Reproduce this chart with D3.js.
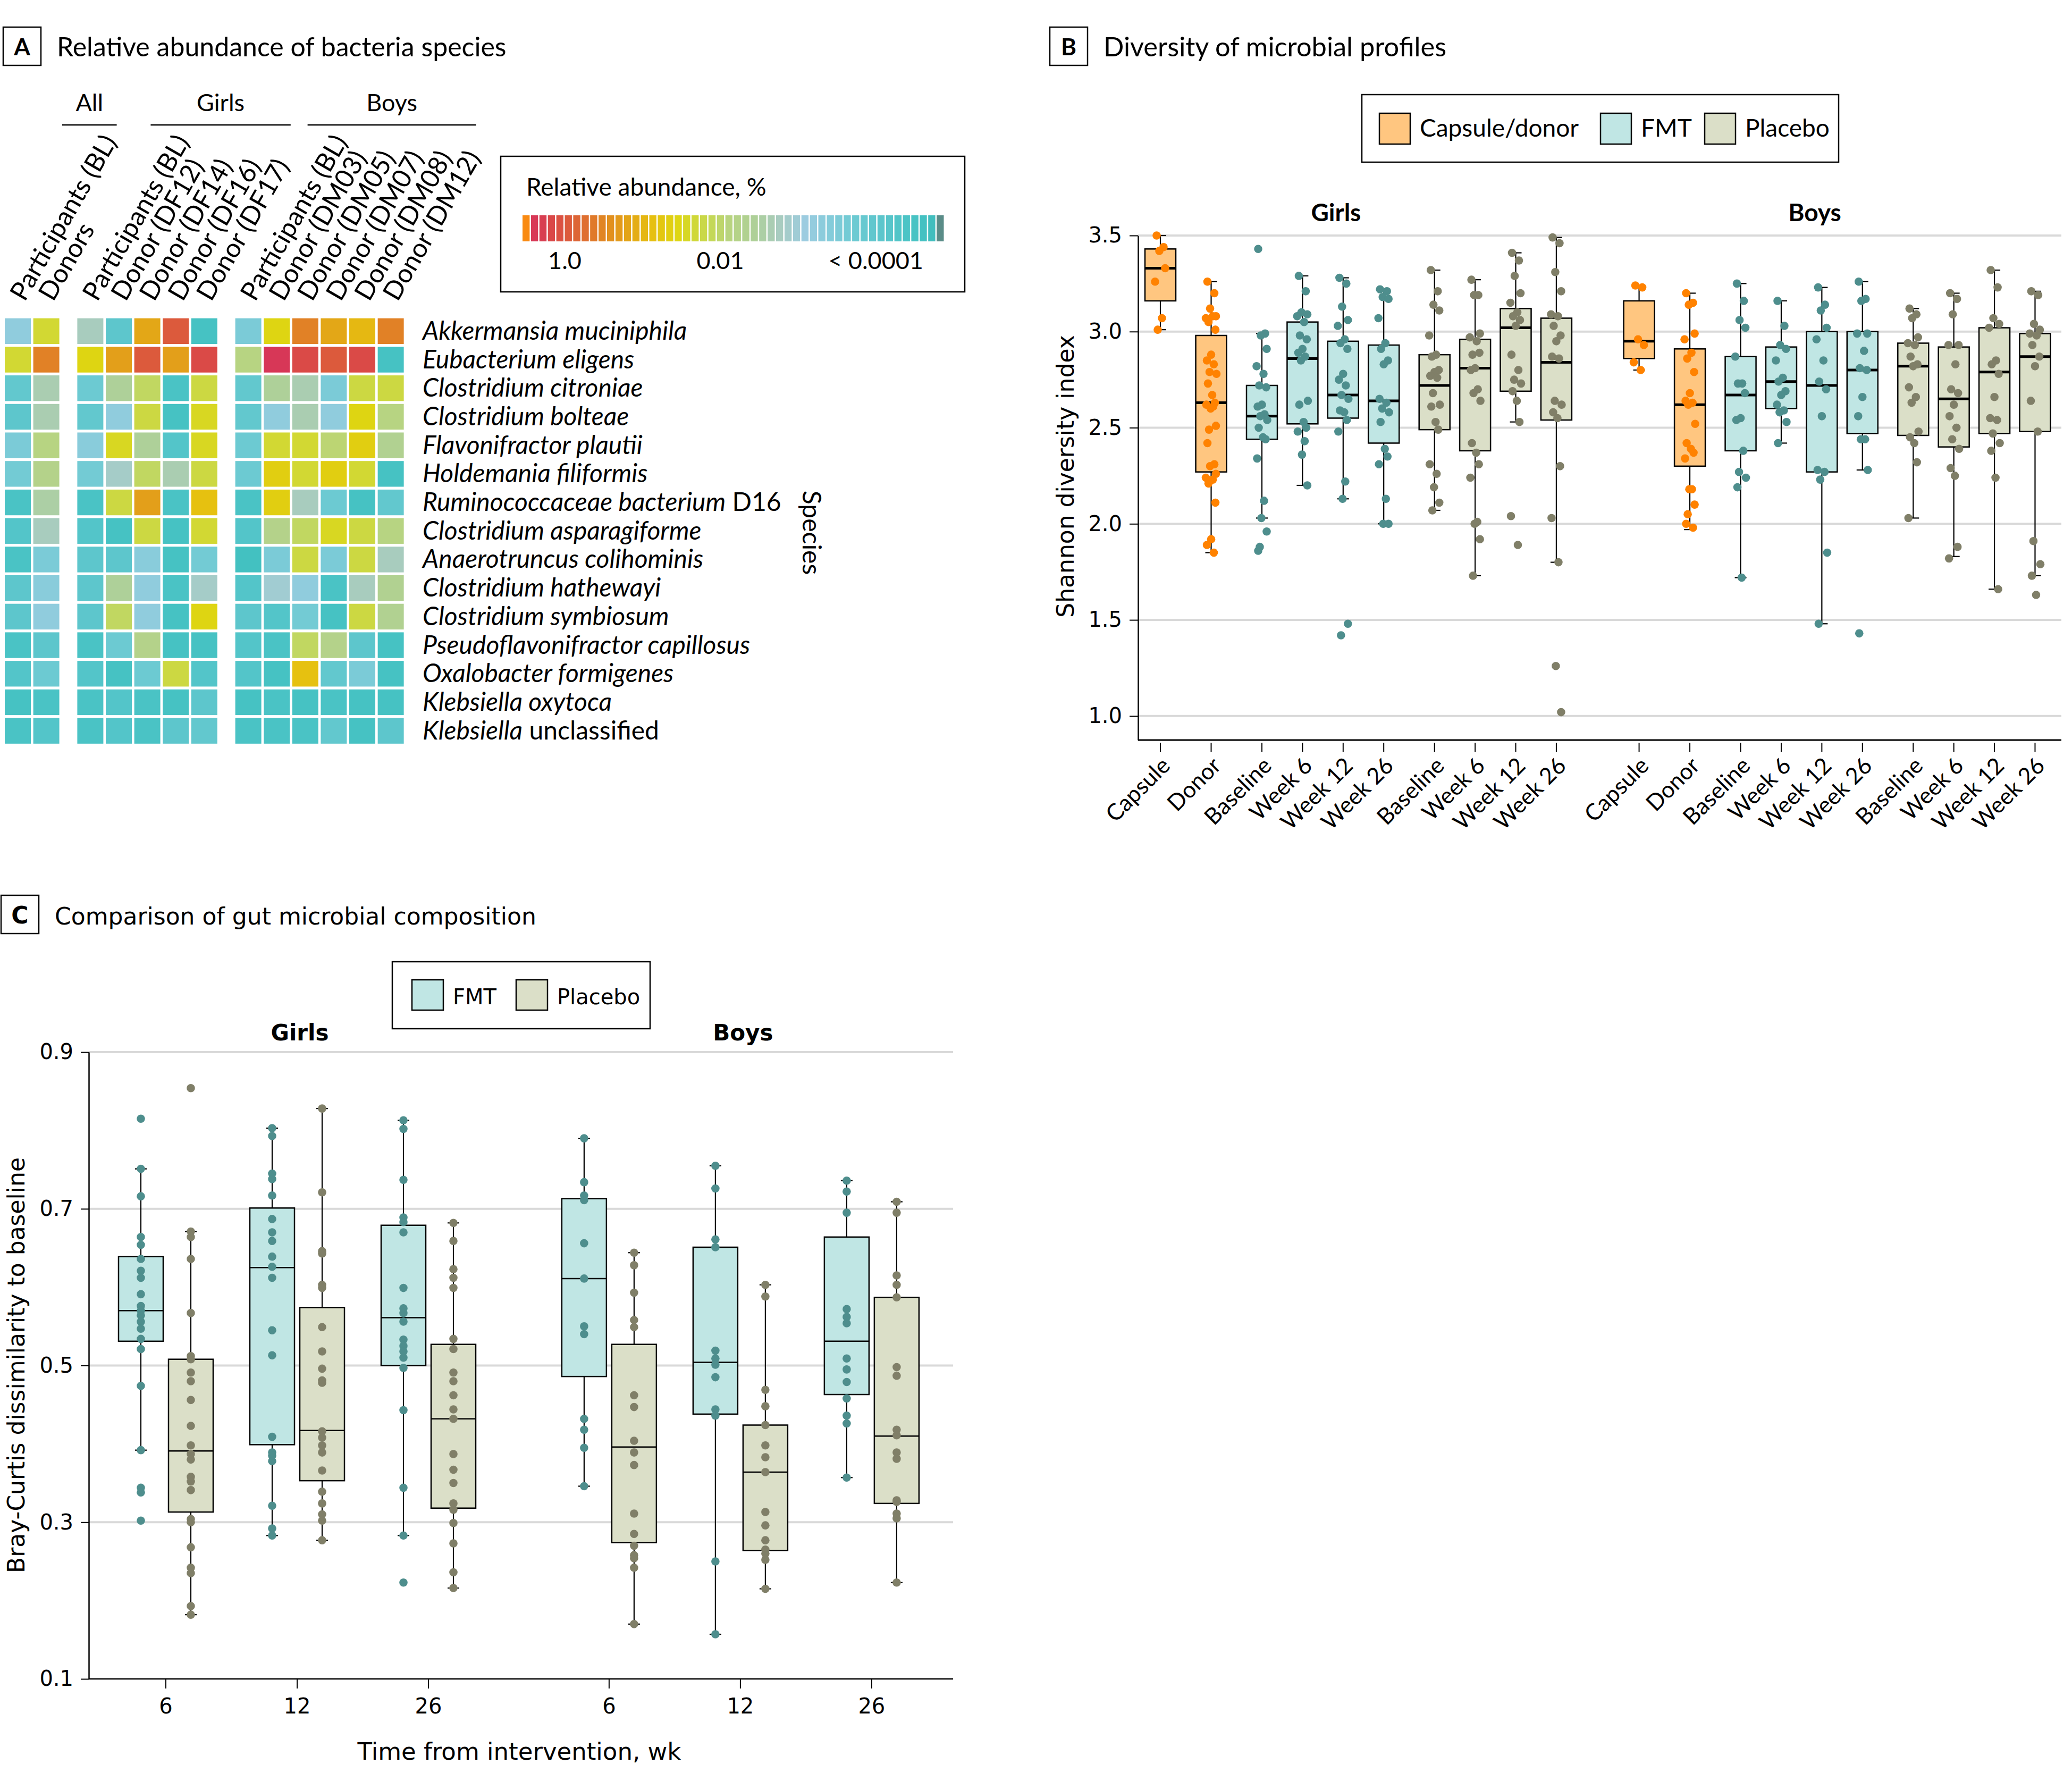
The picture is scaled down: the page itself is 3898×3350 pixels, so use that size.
<!DOCTYPE html>
<html>
<head>
<meta charset="utf-8">
<script src="https://cdn.jsdelivr.net/npm/d3@7"></script>
<style>
  body { margin: 0; background: #fff; }
  svg { display: block; }
</style>
</head>
<body>
<script>
// ---------- Panel A: relative abundance heat map ----------
const heatGroups = ["All", "Girls", "Boys"];
const heatColumns = ["Participants (BL)", "Donors",
  "Participants (BL)", "Donor (DF12)", "Donor (DF14)", "Donor (DF16)", "Donor (DF17)",
  "Participants (BL)", "Donor (DM03)", "Donor (DM05)", "Donor (DM07)", "Donor (DM08)", "Donor (DM12)"];
const heatColumnGroup = [0, 0, 1, 1, 1, 1, 1, 2, 2, 2, 2, 2, 2];
const speciesItalic = ["Akkermansia muciniphila", "Eubacterium eligens", "Clostridium citroniae",
  "Clostridium bolteae", "Flavonifractor plautii", "Holdemania filiformis", "Ruminococcaceae bacterium",
  "Clostridium asparagiforme", "Anaerotruncus colihominis", "Clostridium hathewayi", "Clostridium symbiosum",
  "Pseudoflavonifractor capillosus", "Oxalobacter formigenes", "Klebsiella oxytoca", "Klebsiella"];
const speciesPlain = ["", "", "", "", "", "", " D16", "", "", "", "", "", "", "", " unclassified"];
// log10 of relative abundance (%), one row per species, one value per column
const abundanceLog10 = [
  [-3.2, -1.6, -2.7, -4.0, -0.8, 0.0, -4.5, -3.5, -1.4, -0.4, -0.8, -1.0, -0.4],
  [-1.6, -0.4, -1.4, -0.7, 0.0, -0.7, 0.2, -2.1, 0.4, 0.2, 0.0, 0.2, -4.5],
  [-3.9, -2.6, -3.7, -2.4, -1.9, -4.4, -1.7, -3.9, -2.4, -2.6, -3.5, -1.7, -1.7],
  [-4.0, -2.6, -3.9, -3.2, -1.7, -4.5, -1.5, -3.9, -3.2, -2.6, -3.2, -1.4, -2.1],
  [-3.5, -2.1, -3.3, -1.5, -2.4, -4.2, -1.5, -3.7, -1.6, -1.6, -2.0, -1.3, -2.3],
  [-3.6, -2.2, -3.6, -2.8, -1.9, -2.6, -1.7, -3.7, -1.3, -1.6, -1.3, -1.6, -4.5],
  [-4.4, -2.5, -4.4, -1.7, -0.7, -4.4, -1.1, -4.4, -1.3, -2.7, -3.7, -4.5, -3.9],
  [-4.2, -2.7, -4.2, -4.5, -1.7, -4.5, -1.6, -4.2, -2.2, -1.9, -1.5, -1.7, -2.1],
  [-4.4, -3.5, -4.0, -4.0, -3.3, -4.5, -3.6, -4.6, -3.5, -1.7, -3.5, -1.7, -2.7],
  [-4.0, -3.3, -4.0, -2.4, -3.2, -4.4, -2.8, -4.2, -2.9, -3.2, -4.4, -2.7, -2.3],
  [-4.0, -3.2, -4.0, -1.9, -3.2, -4.5, -1.4, -4.0, -4.2, -3.6, -4.5, -1.7, -2.3],
  [-4.4, -4.0, -4.4, -3.7, -2.2, -4.5, -4.5, -4.2, -4.4, -1.9, -2.2, -4.0, -4.5],
  [-4.2, -3.7, -4.2, -4.5, -3.7, -1.7, -4.2, -4.2, -4.5, -1.1, -3.9, -3.5, -4.5],
  [-4.5, -4.4, -4.4, -4.2, -4.4, -4.5, -4.0, -4.5, -4.4, -4.5, -4.4, -4.5, -4.5],
  [-4.4, -4.2, -4.4, -4.2, -4.4, -4.0, -3.9, -4.4, -4.4, -4.4, -3.9, -4.5, -4.0]
];
const legendTickValues = [0, -2, -4];
const legendTickLabels = ["1.0", "0.01", "< 0.0001"];
const rampStops = [0.54, 0.43, 0.22, 0, -0.33, -0.54, -0.76, -1.09, -1.41, -1.63, -1.85, -2.07,
  -2.39, -2.72, -3.04, -3.37, -3.70, -4.02, -4.35, -4.67, -4.78];
const rampColors = ["#f98a12", "#d6345a", "#da4848", "#dc5a3c", "#e07a2a", "#e2901e", "#e3a418",
  "#e6c010", "#ded612", "#d0d838", "#c4d858", "#b8d480", "#aed098", "#a8ccc0", "#9ccce0", "#84ccda",
  "#6ccad2", "#5cc6cc", "#4cc4c6", "#40c0c0", "#5a8c88"];

// ---------- Panel B: Shannon diversity ----------
const shannonPanels = ["Girls", "Boys"];
const shannonCategories = ["Capsule", "Donor", "Baseline", "Week 6", "Week 12", "Week 26",
  "Baseline", "Week 6", "Week 12", "Week 26"];
const shannonArm = ["Capsule/donor", "Capsule/donor", "FMT", "FMT", "FMT", "FMT",
  "Placebo", "Placebo", "Placebo", "Placebo"];
const shannonArmIndex = [0, 1, 2, 2, 2, 2, 3, 3, 3, 3];
// [lower whisker, Q1, median, Q3, upper whisker]
const shannonGirlsStats = [
  [3.01, 3.16, 3.33, 3.43, 3.50], [1.85, 2.27, 2.63, 2.98, 3.26],
  [2.03, 2.44, 2.56, 2.72, 2.99], [2.20, 2.52, 2.86, 3.05, 3.29],
  [2.13, 2.55, 2.67, 2.95, 3.28], [2.00, 2.42, 2.64, 2.93, 3.22],
  [2.07, 2.49, 2.72, 2.88, 3.32], [1.73, 2.38, 2.81, 2.96, 3.27],
  [2.53, 2.69, 3.02, 3.12, 3.41], [1.80, 2.54, 2.84, 3.07, 3.49]
];
const shannonBoysStats = [
  [2.80, 2.86, 2.95, 3.16, 3.24], [1.97, 2.30, 2.62, 2.91, 3.20],
  [1.72, 2.38, 2.67, 2.87, 3.25], [2.42, 2.60, 2.74, 2.92, 3.16],
  [1.48, 2.27, 2.72, 3.00, 3.23], [2.28, 2.47, 2.80, 3.00, 3.26],
  [2.03, 2.46, 2.82, 2.94, 3.12], [1.83, 2.40, 2.65, 2.92, 3.20],
  [1.66, 2.47, 2.79, 3.02, 3.32], [1.73, 2.48, 2.87, 2.99, 3.21]
];
const shannonGirlsPoints = [
  [3.50, 3.44, 3.42, 3.33, 3.26, 3.07, 3.01],
  [3.26, 3.20, 3.12, 3.08, 3.07, 3.08, 3.05, 3.01, 2.88, 2.85, 2.83, 2.79, 2.78, 2.73, 2.67, 2.63,
   2.62, 2.61, 2.60, 2.51, 2.49, 2.42, 2.31, 2.30, 2.26, 2.24, 2.23, 2.21, 2.11, 1.92, 1.89, 1.85],
  [3.43, 2.99, 2.98, 2.91, 2.82, 2.78, 2.72, 2.71, 2.62, 2.61, 2.57, 2.56, 2.54, 2.50, 2.45, 2.44,
   2.34, 2.12, 2.03, 1.96, 1.88, 1.86],
  [3.29, 3.21, 3.10, 3.09, 3.08, 3.05, 2.98, 2.96, 2.91, 2.89, 2.87, 2.85, 2.64, 2.62, 2.53, 2.50,
   2.48, 2.43, 2.36, 2.20],
  [3.28, 3.25, 3.13, 3.06, 3.03, 2.96, 2.94, 2.91, 2.78, 2.75, 2.72, 2.67, 2.65, 2.59, 2.58, 2.54,
   2.48, 2.22, 2.13, 1.48, 1.42],
  [3.22, 3.21, 3.18, 3.17, 3.07, 2.94, 2.91, 2.85, 2.83, 2.65, 2.63, 2.60, 2.58, 2.53, 2.39, 2.35,
   2.31, 2.13, 2.00, 2.00],
  [3.32, 3.21, 3.14, 3.11, 2.98, 2.88, 2.87, 2.80, 2.79, 2.77, 2.76, 2.68, 2.62, 2.61, 2.53, 2.49,
   2.31, 2.26, 2.19, 2.11, 2.07],
  [3.27, 3.19, 3.19, 2.99, 2.97, 2.95, 2.88, 2.89, 2.81, 2.80, 2.70, 2.68, 2.64, 2.42, 2.37, 2.31,
   2.24, 2.01, 2.00, 1.92, 1.73],
  [3.41, 3.37, 3.29, 3.20, 3.15, 3.10, 3.08, 3.06, 3.03, 2.88, 2.80, 2.75, 2.73, 2.69, 2.64, 2.53,
   2.04, 1.89],
  [3.49, 3.46, 3.31, 3.21, 3.09, 3.08, 3.03, 2.98, 2.95, 2.87, 2.86, 2.64, 2.62, 2.58, 2.55, 2.30,
   2.03, 1.80, 1.26, 1.02]
];
const shannonBoysPoints = [
  [3.24, 3.23, 2.96, 2.93, 2.84, 2.80],
  [3.20, 3.15, 3.14, 2.99, 2.96, 2.89, 2.86, 2.79, 2.68, 2.64, 2.63, 2.62, 2.52, 2.42, 2.39, 2.37,
   2.34, 2.18, 2.18, 2.10, 2.05, 2.00, 1.98],
  [3.25, 3.16, 3.06, 3.02, 2.87, 2.73, 2.73, 2.68, 2.55, 2.54, 2.38, 2.27, 2.24, 2.19, 1.72],
  [3.16, 3.03, 2.93, 2.91, 2.85, 2.76, 2.74, 2.69, 2.67, 2.62, 2.59, 2.58, 2.53, 2.42],
  [3.23, 3.14, 3.11, 3.02, 2.96, 2.85, 2.74, 2.70, 2.56, 2.28, 2.27, 2.23, 1.85, 1.48],
  [3.26, 3.17, 3.16, 2.99, 2.99, 2.90, 2.81, 2.80, 2.66, 2.56, 2.44, 2.44, 2.28, 1.43],
  [3.12, 3.09, 3.07, 2.97, 2.94, 2.93, 2.87, 2.83, 2.82, 2.71, 2.66, 2.63, 2.48, 2.45, 2.42, 2.32, 2.03],
  [3.20, 3.17, 3.09, 2.93, 2.93, 2.83, 2.70, 2.68, 2.62, 2.56, 2.50, 2.44, 2.39, 2.29, 2.25, 1.88, 1.82],
  [3.32, 3.23, 3.07, 3.04, 3.02, 2.85, 2.83, 2.78, 2.66, 2.55, 2.54, 2.47, 2.42, 2.38, 2.24, 1.66],
  [3.21, 3.19, 3.04, 3.01, 2.99, 2.98, 2.93, 2.87, 2.82, 2.64, 2.48, 1.91, 1.79, 1.73, 1.63]
];
const shannonTicks = [1.0, 1.5, 2.0, 2.5, 3.0, 3.5];

// ---------- Panel C: Bray-Curtis dissimilarity ----------
const brayPanels = ["Girls", "Boys"];
const brayWeeks = ["6", "12", "26"];
const brayArms = ["FMT", "Placebo"];
const brayGirlsFMTStats = [[0.392, 0.531, 0.570, 0.639, 0.751], [0.283, 0.399, 0.625, 0.701, 0.803], [0.283, 0.500, 0.561, 0.679, 0.813]];
const brayGirlsPlaceboStats = [[0.182, 0.313, 0.391, 0.508, 0.671], [0.277, 0.353, 0.417, 0.574, 0.828], [0.216, 0.318, 0.432, 0.527, 0.682]];
const brayBoysFMTStats = [[0.346, 0.486, 0.611, 0.713, 0.790], [0.157, 0.438, 0.504, 0.651, 0.755], [0.357, 0.463, 0.531, 0.664, 0.736]];
const brayBoysPlaceboStats = [[0.170, 0.274, 0.396, 0.527, 0.644], [0.215, 0.264, 0.364, 0.424, 0.603], [0.223, 0.324, 0.410, 0.587, 0.709]];
const brayGirlsFMTPoints = [
  [0.815, 0.751, 0.716, 0.664, 0.654, 0.636, 0.621, 0.612, 0.591, 0.576, 0.570, 0.564, 0.556, 0.547, 0.534, 0.521, 0.474, 0.392, 0.344, 0.338, 0.302],
  [0.803, 0.793, 0.745, 0.738, 0.717, 0.687, 0.670, 0.659, 0.639, 0.626, 0.612, 0.545, 0.513, 0.409, 0.389, 0.385, 0.378, 0.321, 0.292, 0.283],
  [0.813, 0.802, 0.737, 0.689, 0.683, 0.670, 0.599, 0.573, 0.567, 0.556, 0.533, 0.525, 0.518, 0.510, 0.497, 0.443, 0.344, 0.283, 0.223]
];
const brayGirlsPlaceboPoints = [
  [0.854, 0.671, 0.664, 0.636, 0.567, 0.512, 0.508, 0.491, 0.480, 0.456, 0.423, 0.398, 0.387, 0.380, 0.358, 0.352, 0.341, 0.304, 0.300, 0.268, 0.242, 0.235, 0.193, 0.182],
  [0.828, 0.721, 0.646, 0.643, 0.603, 0.599, 0.549, 0.518, 0.496, 0.481, 0.478, 0.416, 0.408, 0.398, 0.389, 0.366, 0.339, 0.324, 0.310, 0.302, 0.277],
  [0.682, 0.659, 0.623, 0.612, 0.599, 0.534, 0.521, 0.491, 0.480, 0.462, 0.444, 0.432, 0.387, 0.367, 0.350, 0.324, 0.316, 0.299, 0.273, 0.236, 0.216]
];
const brayBoysFMTPoints = [
  [0.790, 0.734, 0.717, 0.711, 0.656, 0.611, 0.550, 0.540, 0.432, 0.418, 0.395, 0.346],
  [0.755, 0.726, 0.661, 0.651, 0.519, 0.509, 0.501, 0.485, 0.444, 0.436, 0.250, 0.157],
  [0.736, 0.722, 0.695, 0.572, 0.562, 0.554, 0.509, 0.495, 0.479, 0.458, 0.436, 0.426, 0.357]
];
const brayBoysPlaceboPoints = [
  [0.644, 0.628, 0.593, 0.558, 0.549, 0.462, 0.447, 0.404, 0.389, 0.373, 0.311, 0.285, 0.270, 0.258, 0.254, 0.242, 0.170],
  [0.603, 0.588, 0.469, 0.448, 0.424, 0.398, 0.383, 0.364, 0.313, 0.296, 0.277, 0.265, 0.260, 0.252, 0.215],
  [0.709, 0.695, 0.615, 0.603, 0.587, 0.498, 0.487, 0.418, 0.411, 0.389, 0.381, 0.328, 0.326, 0.311, 0.305, 0.223]
];
const brayTicks = [0.1, 0.3, 0.5, 0.7, 0.9];

// ---------- common styling ----------
const armFill = { "Capsule/donor": "#ffc680", "FMT": "#c0e6e4", "Placebo": "#dbdfc8" };
const armDot = { "Capsule/donor": "#ff8200", "FMT": "#4e8e8d", "Placebo": "#807f68" };
const gridColor = "#d9d9d9";
const sans = "Lato, 'Open Sans', sans-serif";
const dejavu = "'DejaVu Sans', sans-serif";

const width = 3898, height = 3350;
const svg = d3.select("body").append("svg")
    .attr("width", width)
    .attr("height", height)
    .attr("viewBox", [0, 0, width, height])
    .style("font-family", sans);

svg.append("rect").attr("width", width).attr("height", height).attr("fill", "#fff");

// Panel letter box + title
function panelHeader(letter, x, y, title, font, size) {
  svg.append("rect")
      .attr("x", x).attr("y", y).attr("width", 71).attr("height", 72)
      .attr("fill", "none").attr("stroke", "#000").attr("stroke-width", 2.5);
  svg.append("text")
      .attr("x", x + 35.5).attr("y", y + 53)
      .attr("text-anchor", "middle").attr("font-weight", "bold")
      .attr("font-size", 44).attr("font-family", font)
      .text(letter);
  svg.append("text")
      .attr("x", x + 101).attr("y", y + 55)
      .attr("font-size", size).attr("font-family", font)
      .text(title);
}

panelHeader("A", 6, 51, "Relative abundance of bacteria species", sans, 50);
panelHeader("B", 1975, 51, "Diversity of microbial profiles", sans, 50.5);
panelHeader("C", 2, 1684, "Comparison of gut microbial composition", dejavu, 44);

// ================= Panel A =================
const colorRamp = d3.scaleLinear().domain(rampStops).range(rampColors).clamp(true);
const groupGap = 0.545;
const heatX = d3.scaleLinear().domain([0, 1]).range([9, 62.6]);
const colX = (i) => heatX(i + heatColumnGroup[i] * groupGap);
const cellW = 49;
const heatY = d3.scaleBand().domain(d3.range(speciesItalic.length))
    .range([596, 596 + 15 * 53.7]).paddingInner(0.1).paddingOuter(0.05);

const gA = svg.append("g");

abundanceLog10.forEach((row, r) => {
  gA.append("g").selectAll("rect")
    .data(row)
    .join("rect")
      .attr("x", (d, i) => colX(i))
      .attr("y", heatY(r))
      .attr("width", cellW)
      .attr("height", heatY.bandwidth())
      .attr("fill", d => colorRamp(d));
});

// group headers
const headerOffset = [108, 138, 136];
heatGroups.forEach((name, g) => {
  const idx = d3.range(heatColumns.length).filter(i => heatColumnGroup[i] === g);
  const x0 = colX(idx[0]) + headerOffset[g];
  const x1 = colX(idx[idx.length - 1]) + cellW + headerOffset[g];
  gA.append("line")
      .attr("x1", x0).attr("x2", x1).attr("y1", 235).attr("y2", 235)
      .attr("stroke", "#000").attr("stroke-width", 2.5);
  gA.append("text")
      .attr("x", (x0 + x1) / 2).attr("y", 209)
      .attr("text-anchor", "middle").attr("font-size", 45)
      .text(name);
});

// column labels
gA.append("g").selectAll("text")
  .data(heatColumns)
  .join("text")
    .attr("transform", (d, i) => `translate(${colX(i) + cellW / 2 + 13},569) rotate(-60)`)
    .attr("font-size", 49)
    .text(d => d);

// species labels
const spLabels = gA.append("g").selectAll("text")
  .data(speciesItalic)
  .join("text")
    .attr("x", 795)
    .attr("y", (d, i) => heatY(i) + heatY.bandwidth() / 2 + 16)
    .attr("font-size", 48);
spLabels.append("tspan").attr("font-style", "italic").text(d => d);
spLabels.append("tspan").text((d, i) => speciesPlain[i]);

gA.append("text")
    .attr("transform", "translate(1510,1002) rotate(90)")
    .attr("text-anchor", "middle").attr("font-size", 48)
    .text("Species");

// color legend
const legendX = d3.scaleLinear().domain([5 / 9.2, (5 - 50) / 9.2]).range([983, 983 + 50 * 15.9]);
const legendSegments = d3.range(50).map(i => (5 - i) / 9.2);
const gL = gA.append("g");
gL.append("rect")
    .attr("x", 942).attr("y", 294).attr("width", 873).attr("height", 255)
    .attr("fill", "none").attr("stroke", "#000").attr("stroke-width", 2.5);
gL.append("text")
    .attr("x", 990).attr("y", 368).attr("font-size", 46)
    .text("Relative abundance, %");
gL.selectAll("rect.seg")
  .data(legendSegments)
  .join("rect")
    .attr("class", "seg")
    .attr("x", d => legendX(d))
    .attr("y", 405)
    .attr("width", 13.4)
    .attr("height", 49)
    .attr("fill", d => colorRamp(d));
gL.selectAll("text.tick")
  .data(legendTickValues)
  .join("text")
    .attr("class", "tick")
    .attr("x", d => legendX(d))
    .attr("y", 506)
    .attr("text-anchor", "middle")
    .attr("font-size", 45)
    .text((d, i) => legendTickLabels[i]);

// ================= Panel B =================
const yB = d3.scaleLinear().domain([0.875, 3.5]).range([1392, 443]);
const panelSlot = 47.15;
const xB = d3.scaleLinear().domain([0, 1]).range([2183, 2183 + 19.1]);
const slotB = (i, p) => i * 4 + shannonArmIndex[i] + p * panelSlot;
const plotB = { left: 2141, right: 3878 };
const gB = svg.append("g");

// grid
gB.append("g").selectAll("line")
  .data(shannonTicks)
  .join("line")
    .attr("x1", plotB.left).attr("x2", plotB.right)
    .attr("y1", d => yB(d)).attr("y2", d => yB(d))
    .attr("stroke", gridColor).attr("stroke-width", 4);

// y axis
const axB = gB.append("g")
    .attr("transform", `translate(${plotB.left},0)`)
    .call(d3.axisLeft(yB).tickValues(shannonTicks).tickFormat(d3.format(".1f"))
      .tickSize(16).tickSizeOuter(0).tickPadding(14));
axB.select(".domain").attr("stroke-width", 2.5);
axB.selectAll(".tick line").attr("stroke-width", 2);
axB.selectAll(".tick text").attr("font-size", 40).attr("font-family", dejavu);

gB.append("text")
    .attr("transform", "translate(2020,896) rotate(-90)")
    .attr("text-anchor", "middle").attr("font-size", 44).attr("font-family", dejavu)
    .text("Shannon diversity index");

// x axis line
gB.append("line")
    .attr("x1", plotB.left).attr("x2", plotB.right).attr("y1", 1392).attr("y2", 1392)
    .attr("stroke", "#000").attr("stroke-width", 3);

const jitter = [-7, 6, -2, 9, -10, 3, -5, 8, 0, -8, 5, -3, 10, -6, 2, 7, -9, 4, -1, 9, -4];

function drawBox(g, cx, w, s, arm, y, medWidth, pts, jit) {
  const capHalf = 11;
  g.append("line")
      .attr("x1", cx).attr("x2", cx).attr("y1", y(s[0])).attr("y2", y(s[4]))
      .attr("stroke", "#000").attr("stroke-width", 2.2);
  [s[0], s[4]].forEach(v => {
    g.append("line")
        .attr("x1", cx - capHalf).attr("x2", cx + capHalf).attr("y1", y(v)).attr("y2", y(v))
        .attr("stroke", "#000").attr("stroke-width", 2.2);
  });
  g.append("rect")
      .attr("x", cx - w / 2).attr("y", y(s[3]))
      .attr("width", w).attr("height", y(s[1]) - y(s[3]))
      .attr("fill", armFill[arm]).attr("stroke", "#000").attr("stroke-width", 2.5);
  g.append("line")
      .attr("x1", cx - w / 2).attr("x2", cx + w / 2).attr("y1", y(s[2])).attr("y2", y(s[2]))
      .attr("stroke", "#000").attr("stroke-width", medWidth);
  g.append("g").selectAll("circle")
    .data(pts)
    .join("circle")
      .attr("cx", (d, i) => cx + (jit ? jitter[i % jitter.length] : 0))
      .attr("cy", d => y(d))
      .attr("r", 7.8)
      .attr("fill", armDot[arm]);
}

shannonPanels.forEach((panel, p) => {
  const stats = p === 0 ? shannonGirlsStats : shannonBoysStats;
  const pts = p === 0 ? shannonGirlsPoints : shannonBoysPoints;
  shannonCategories.forEach((cat, i) => {
    const cx = xB(slotB(i, p));
    drawBox(gB, cx, 58, stats[i], shannonArm[i], yB, 5, pts[i], true);
    gB.append("line")
        .attr("x1", cx).attr("x2", cx).attr("y1", 1397).attr("y2", 1414)
        .attr("stroke", "#000").attr("stroke-width", 2);
    gB.append("text")
        .attr("transform", `translate(${cx + 21},1443) rotate(-45)`)
        .attr("text-anchor", "end").attr("font-size", 43)
        .text(cat);
  });
  gB.append("text")
      .attr("x", xB(slotB(0, p) + 17.3)).attr("y", 416)
      .attr("text-anchor", "middle").attr("font-weight", "bold").attr("font-size", 46)
      .text(panel);
});

// legend B
const legB = gB.append("g");
legB.append("rect")
    .attr("x", 2562).attr("y", 178).attr("width", 897).attr("height", 127)
    .attr("fill", "none").attr("stroke", "#000").attr("stroke-width", 2.5);
const legBx = [2595, 3011, 3207];
["Capsule/donor", "FMT", "Placebo"].forEach((arm, i) => {
  legB.append("rect")
      .attr("x", legBx[i]).attr("y", 213).attr("width", 58).attr("height", 58)
      .attr("fill", armFill[arm]).attr("stroke", "#000").attr("stroke-width", 2.5);
  legB.append("text")
      .attr("x", legBx[i] + 76).attr("y", 257).attr("font-size", 46)
      .text(arm);
});

// ================= Panel C =================
const yC = d3.scaleLinear().domain([0.1, 0.9]).range([3158, 1979]);
const xC = d3.scaleLinear().domain([0, 1]).range([312, 559]);
const slotC = (w, p) => w + p * 3.376;
const plotC = { left: 167, right: 1793 };
const gC = svg.append("g").style("font-family", dejavu);

gC.append("g").selectAll("line")
  .data(brayTicks.slice(1))
  .join("line")
    .attr("x1", plotC.left).attr("x2", plotC.right)
    .attr("y1", d => yC(d)).attr("y2", d => yC(d))
    .attr("stroke", gridColor).attr("stroke-width", 4);

const axC = gC.append("g")
    .attr("transform", `translate(${plotC.left},0)`)
    .call(d3.axisLeft(yC).tickValues(brayTicks).tickFormat(d3.format(".1f"))
      .tickSize(15).tickSizeOuter(0).tickPadding(14));
axC.select(".domain").attr("stroke-width", 2.5);
axC.selectAll(".tick line").attr("stroke-width", 2);
axC.selectAll(".tick text").attr("font-size", 40).attr("font-family", dejavu);

gC.append("line")
    .attr("x1", plotC.left).attr("x2", plotC.right).attr("y1", 3158).attr("y2", 3158)
    .attr("stroke", "#000").attr("stroke-width", 2.5);

gC.append("text")
    .attr("transform", "translate(46,2568) rotate(-90)")
    .attr("text-anchor", "middle").attr("font-size", 44)
    .text("Bray-Curtis dissimilarity to baseline");

gC.append("text")
    .attr("x", 977).attr("y", 3310)
    .attr("text-anchor", "middle").attr("font-size", 45)
    .text("Time from intervention, wk");

const brayStats = [[brayGirlsFMTStats, brayGirlsPlaceboStats], [brayBoysFMTStats, brayBoysPlaceboStats]];
const brayPoints = [[brayGirlsFMTPoints, brayGirlsPlaceboPoints], [brayBoysFMTPoints, brayBoysPlaceboPoints]];
const armOffset = [-47, 47];

brayPanels.forEach((panel, p) => {
  brayWeeks.forEach((wk, w) => {
    const cx = xC(slotC(w, p));
    brayArms.forEach((arm, a) => {
      drawBox(gC, cx + armOffset[a], 84, brayStats[p][a][w], arm, yC, 2.5, brayPoints[p][a][w], false);
    });
    gC.append("line")
        .attr("x1", cx).attr("x2", cx).attr("y1", 3158).attr("y2", 3176)
        .attr("stroke", "#000").attr("stroke-width", 2);
    gC.append("text")
        .attr("x", cx).attr("y", 3223)
        .attr("text-anchor", "middle").attr("font-size", 40)
        .text(wk);
  });
  gC.append("text")
      .attr("x", (xC(slotC(0, p)) + xC(slotC(2, p))) / 2 + 5).attr("y", 1957)
      .attr("text-anchor", "middle").attr("font-weight", "bold").attr("font-size", 42)
      .text(panel);
});

// legend C
const legC = gC.append("g");
legC.append("rect")
    .attr("x", 738).attr("y", 1809).attr("width", 485).attr("height", 126)
    .attr("fill", "none").attr("stroke", "#000").attr("stroke-width", 2.5);
const legCx = [775, 971];
brayArms.forEach((arm, i) => {
  legC.append("rect")
      .attr("x", legCx[i]).attr("y", 1843).attr("width", 59).attr("height", 57)
      .attr("fill", armFill[arm]).attr("stroke", "#000").attr("stroke-width", 2.5);
  legC.append("text")
      .attr("x", legCx[i] + 77).attr("y", 1889).attr("font-size", 40)
      .text(arm);
});
</script>
</body>
</html>
